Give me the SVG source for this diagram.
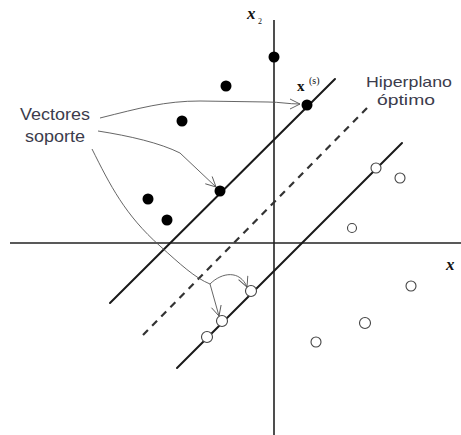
<svg xmlns="http://www.w3.org/2000/svg" width="461" height="435" viewBox="0 0 461 435">
<style>
.axis{stroke:#222;stroke-width:1.6;fill:none}
.hp{stroke:#1a1a1a;stroke-width:2;fill:none;stroke-linecap:round}
.dash{stroke:#333;stroke-width:2.2;fill:none;stroke-dasharray:7 6}
.ann{stroke:#555;stroke-width:0.9;fill:none}
.pos{fill:#000}
.neg{fill:#fff;stroke:#444;stroke-width:1.1}
.lbl{font-family:"Liberation Sans",Arial,sans-serif;font-size:16px;fill:#3c3c4c}
.hl{font-size:15px}
.math{font-family:"Liberation Serif","Times New Roman",serif;fill:#111}
</style>
<defs>
<marker id="arr" viewBox="0 0 12 12" refX="11" refY="6" markerWidth="12" markerHeight="12" markerUnits="userSpaceOnUse" orient="auto">
<path d="M1,1 L11,6 L1,11" fill="none" stroke="#555" stroke-width="0.9"/>
</marker>
</defs>
<g id="connectors">
<line class="axis" x1="10" y1="243" x2="461" y2="243"/>
<line class="axis" x1="274" y1="20" x2="274" y2="435"/>
<line class="hp" x1="110" y1="303" x2="335" y2="79"/>
<line class="dash" x1="143" y1="335" x2="367" y2="108"/>
<line class="hp" x1="177" y1="368" x2="402" y2="143"/>
<path class="ann" d="M100,118 C140,108 165,101 200,101 L268,102 C280,102 288,104 300,104" marker-end="url(#arr)"/>
<path class="ann" d="M98,131 C130,136 160,143 180,153 L216,187" marker-end="url(#arr)"/>
<path class="ann" d="M92,149 C110,185 125,215 160,246 C180,264 195,278 210,284"/>
<path class="ann" d="M210,284 C222,272 240,270 247,287" marker-end="url(#arr)"/>
<path class="ann" d="M210,284 L219,316" marker-end="url(#arr)"/>
</g>
<g id="labels">
<text class="lbl"><tspan x="20" y="120" textLength="70" lengthAdjust="spacingAndGlyphs">Vectores</tspan><tspan x="25" y="142" textLength="60" lengthAdjust="spacingAndGlyphs">soporte</tspan></text>
<text class="lbl hl" x="366" y="87" textLength="86" lengthAdjust="spacingAndGlyphs">Hiperplano</text>
<text class="lbl hl" x="377" y="105" textLength="58" lengthAdjust="spacingAndGlyphs">óptimo</text>
<text class="math" x="247" y="19" font-size="17" font-style="italic" font-weight="bold">x</text>
<text class="math" x="258" y="24" font-size="8">2</text>
<text class="math" x="446" y="270" font-size="17" font-style="italic" font-weight="bold">x</text>
<text class="math" x="297" y="91" font-size="15" font-weight="bold">x</text>
<text class="math" x="309" y="84" font-size="10" fill="#3c3c5c">(s)</text>
</g>
<g id="p1"><circle class="pos" cx="274" cy="57" r="5.5"/></g>
<g id="p2"><circle class="pos" cx="226" cy="86" r="5.5"/></g>
<g id="p3"><circle class="pos" cx="182" cy="121" r="5.5"/></g>
<g id="p4"><circle class="pos" cx="307" cy="105" r="5.5"/></g>
<g id="p5"><circle class="pos" cx="220" cy="191" r="5.5"/></g>
<g id="p6"><circle class="pos" cx="148" cy="199" r="5.5"/></g>
<g id="p7"><circle class="pos" cx="167" cy="220" r="5.5"/></g>
<g id="n1"><circle class="neg" cx="376" cy="168" r="5"/></g>
<g id="n2"><circle class="neg" cx="400" cy="178" r="5"/></g>
<g id="n3"><circle class="neg" cx="352" cy="228" r="4.5"/></g>
<g id="n4"><circle class="neg" cx="251" cy="291" r="5.5"/></g>
<g id="n5"><circle class="neg" cx="411" cy="286" r="5"/></g>
<g id="n6"><circle class="neg" cx="365" cy="323" r="5.5"/></g>
<g id="n7"><circle class="neg" cx="316" cy="342" r="5"/></g>
<g id="n8"><circle class="neg" cx="222" cy="321" r="5.5"/></g>
<g id="n9"><circle class="neg" cx="207" cy="337" r="5.5"/></g>
</svg>
